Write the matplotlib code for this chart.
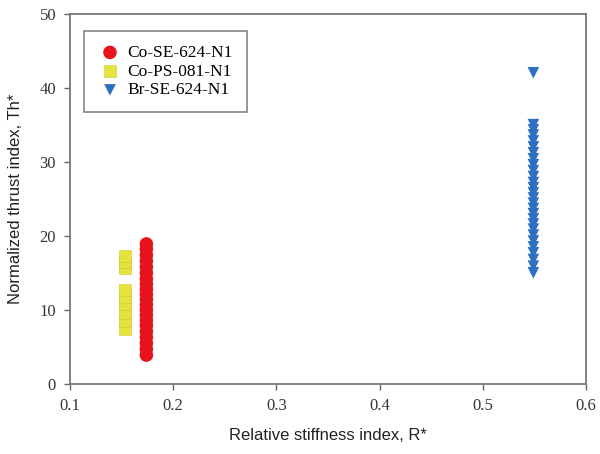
import matplotlib
matplotlib.use("Agg")
import matplotlib.pyplot as plt

# Data
red_x = 0.174
red_y = [3.9, 4.7, 5.5, 6.3, 7.1, 7.9, 8.6, 9.3, 10.0, 10.7, 11.4, 12.1,
         12.8, 13.5, 14.2, 15.0, 15.8, 16.6, 17.4, 18.2, 18.9]
yel_x = 0.153
yel_y = [7.4, 8.5, 9.6, 10.8, 11.8, 12.7, 15.6, 16.5, 17.3]
blu_x = 0.549
blu_y = [15.0, 15.9, 16.8, 17.7, 18.5, 19.3, 20.1, 20.9, 21.6, 22.3, 23.0,
         23.7, 24.4, 25.1, 25.8, 26.5, 27.2, 28.0, 28.8, 29.6, 30.4, 31.2,
         32.0, 32.8, 33.6, 34.3, 35.0, 42.0]
labels = ["Co-SE-624-N1", "Co-PS-081-N1", "Br-SE-624-N1"]
xticks = [0.1, 0.2, 0.3, 0.4, 0.5, 0.6]
yticks = [0, 10, 20, 30, 40, 50]

fig = plt.figure(figsize=(6, 4.54), dpi=100)
ax = fig.add_axes([70/600, 1-384/454, 516/600, 370.5/454])

ax.scatter([red_x]*len(red_y), red_y, s=95, marker='o', color='#e8141c',
           edgecolors='none', label=labels[0], zorder=3)
ax.scatter([yel_x]*len(yel_y), yel_y, s=85, marker='s', color='#e6e43c',
           edgecolors='#c8c630', linewidths=0.4, label=labels[1], zorder=3)
ax.scatter([blu_x]*len(blu_y), blu_y, s=70, marker='v', color='#2d6fc2',
           edgecolors='none', label=labels[2], zorder=3)

ax.set_xlim(0.1, 0.6)
ax.set_ylim(0, 50)
ax.set_xticks(xticks)
ax.set_yticks(yticks)
ax.set_xticklabels([f"{v:.1f}" for v in xticks], family='Liberation Serif', fontsize=12, color='#333333')
ax.set_yticklabels([str(v) for v in yticks], family='Liberation Serif', fontsize=12, color='#333333')
ax.tick_params(direction='out', length=4, width=1, color='#666666', pad=6)
for sp in ax.spines.values():
    sp.set_color('#777777')
    sp.set_linewidth(1.3)

ax.set_xlabel("Relative stiffness index, R*", family='Liberation Sans', fontsize=12, labelpad=10, color='#222222')
ax.set_ylabel("Normalized thrust index, Th*", family='Liberation Sans', fontsize=12, labelpad=12, color='#222222')

leg = ax.legend(loc='upper left', bbox_to_anchor=(0.027, 0.953), frameon=True,
                fancybox=False, prop={'family': 'Liberation Serif', 'size': 12.5},
                handletextpad=0.3, borderpad=0.8, labelspacing=0.15,
                handlelength=1.4, borderaxespad=0, scatterpoints=1)
leg.get_frame().set_edgecolor('#666666')
leg.get_frame().set_linewidth(1.2)

fig.savefig("out.png", dpi=100)
